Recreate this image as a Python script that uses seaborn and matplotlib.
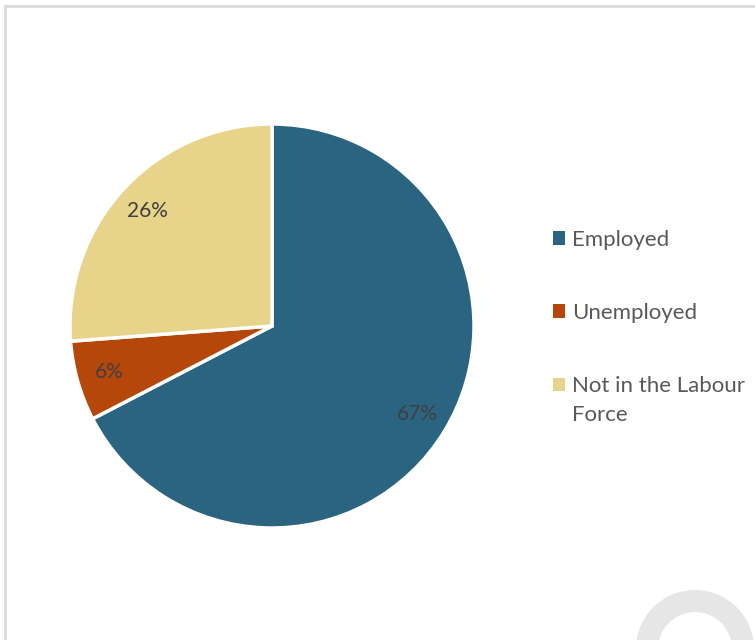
import matplotlib
matplotlib.use("Agg")
import matplotlib.pyplot as plt
import seaborn as sns
from matplotlib.patches import Patch, Rectangle, Wedge
from matplotlib.legend_handler import HandlerPatch

# ── Data ──────────────────────────────────────────────────────────────────────
categories = ["Employed", "Unemployed", "Not in the Labour\nForce"]
shares = [67.4, 6.4, 26.2]
colors = ["#2a6480", "#b5470b", "#e8d38b"]

sns.set_theme(style="white")
plt.rcParams["font.family"] = ["Lato", "DejaVu Sans"]

fig = plt.figure(figsize=(7.55, 6.4), dpi=100)
W, H = 755, 640

# ── Pie ───────────────────────────────────────────────────────────────────────
ax = fig.add_axes([70 / W, (H - 528) / H, 404 / W, 404 / H])
wedges, texts, autotexts = ax.pie(
    shares, colors=colors, startangle=90, counterclock=False,
    autopct="%1.0f%%", pctdistance=0.84,
    wedgeprops=dict(edgecolor="white", linewidth=2.5),
    textprops=dict(color="#404040", fontsize=15),
)
ax.set_xlim(-1, 1)
ax.set_ylim(-1, 1)
ax.set_aspect("equal")


# handle sits on the first text line (multi-line labels)
class TopHandler(HandlerPatch):
    def __init__(self, shift=0, **kw):
        super().__init__(**kw)
        self.shift = shift

    def create_artists(self, legend, orig_handle, xdescent, ydescent,
                       width, height, fontsize, trans):
        p = Rectangle((-xdescent, -ydescent + self.shift), width, height,
                      facecolor=orig_handle.get_facecolor(), edgecolor="none",
                      transform=trans)
        return [p]


# ── Legend ────────────────────────────────────────────────────────────────────
handles = [Patch(facecolor=c, edgecolor="none") for c in colors]
leg = fig.legend(handles, categories, loc="upper left",
                 bbox_to_anchor=(533 / W, 1 - 210 / H), frameon=False,
                 fontsize=16, labelcolor="#595959", handlelength=0.55,
                 handleheight=0.55, handletextpad=0.3, labelspacing=2.38,
                 handler_map={handles[2]: TopHandler(shift=11.5)})
for t in leg.get_texts():
    t.set_linespacing(1.55)

# ── Frame and watermark ───────────────────────────────────────────────────────
fig.patches.append(Rectangle((5 / W, -0.01), 1.0, 1 - 6 / H + 0.01,
                             transform=fig.transFigure, fill=False,
                             edgecolor="#d9d9d9", linewidth=2))
bg = fig.add_axes([0, 0, 1, 1], zorder=-1)
bg.set_xlim(0, W)
bg.set_ylim(H, 0)
bg.axis("off")
bg.add_patch(Wedge((695, 649), 59, 0, 360, width=22, facecolor="#e6e6e6",
                   edgecolor="none"))

fig.savefig("out.png", dpi=100)
